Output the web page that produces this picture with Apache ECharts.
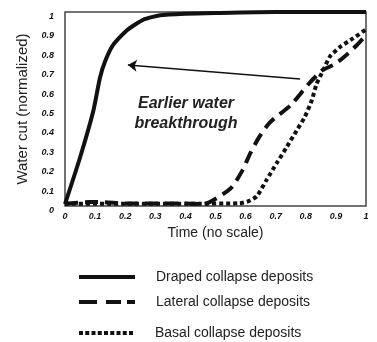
<!DOCTYPE html>
<html>
<head>
<meta charset="utf-8">
<script src="https://cdn.jsdelivr.net/npm/echarts@6/dist/echarts.min.js"></script>
<style>
  html, body { margin: 0; padding: 0; background: #fff; }
  #chart { width: 377px; height: 342px; }
</style>
</head>
<body>
<div id="chart"></div>
<script>
// curves (time 0..1, water cut 0..1)
const drapedTime = [0, 0.05, 0.094, 0.116, 0.133, 0.16, 0.205, 0.26, 0.316, 0.4, 0.5, 0.7, 1.0];
const drapedCut = [0.01, 0.25, 0.49, 0.66, 0.745, 0.83, 0.905, 0.96, 0.983, 0.991, 0.995, 1.0, 1.0];

const lateralTime = [0, 0.08, 0.12, 0.2, 0.3, 0.4, 0.46, 0.55, 0.59, 0.615, 0.645, 0.68, 0.75, 0.81, 0.855, 0.895, 0.925, 0.97, 1.0];
const lateralCut = [0.012, 0.02, 0.02, 0.013, 0.013, 0.013, 0.01, 0.09, 0.185, 0.27, 0.355, 0.43, 0.52, 0.63, 0.70, 0.73, 0.765, 0.83, 0.88];

const basalTime = [0, 0.2, 0.4, 0.58, 0.61, 0.637, 0.67, 0.703, 0.737, 0.77, 0.797, 0.82, 0.836, 0.858, 0.88, 0.914, 0.958, 1.0];
const basalCut = [0.012, 0.012, 0.012, 0.014, 0.025, 0.05, 0.135, 0.22, 0.305, 0.39, 0.46, 0.545, 0.63, 0.70, 0.77, 0.82, 0.865, 0.91];

const seriesNames = ["Draped collapse deposits", "Lateral collapse deposits", "Basal collapse deposits"];
const arrowFrom = [0.781, 0.655];
const arrowTo = [0.209, 0.727];

const zip = (xs, ys) => xs.map((x, i) => [x, ys[i]]);

const font = '"Liberation Sans", Arial, sans-serif';
const tickStyle = { fontSize: 9, fontWeight: "bold", fontStyle: "italic", color: "#111", fontFamily: font };

// legend swatches (56 x 4)
const iconSolid = "path://M0,0h56v4h-56z";
const iconDashed = "path://M0,0h18v4h-18zM27,0h15v4h-15zM48,0h8v4h-8z";
let dots = "path://";
for (let i = 0; i < 9; i++) dots += "M" + (i * 6.25) + ",0h4v4h-4z";
const iconDotted = dots;

const chart = echarts.init(document.getElementById("chart"));

const legendAt = (name, icon, top) => ({
  data: [{ name: name, icon: icon }],
  orient: "vertical",
  left: 74,
  top: top,
  itemWidth: 56,
  itemHeight: 4,
  itemStyle: { color: "#111" },
  textStyle: { fontSize: 14, color: "#222", fontFamily: font, padding: [0, 0, 0, 16] },
  selectedMode: false,
});

const option = {
  animation: false,
  grid: {
    left: 65, right: 11, top: 12, bottom: 136,
    show: true, borderColor: "#444", borderWidth: 1.5,
  },
  xAxis: {
    type: "value", min: 0, max: 1, interval: 0.1,
    name: "Time (no scale)", nameLocation: "middle", nameGap: 12,
    nameTextStyle: { fontSize: 14, color: "#222", fontFamily: font },
    axisLine: { show: false }, axisTick: { show: false }, splitLine: { show: false },
    axisLabel: Object.assign({ margin: 6 }, tickStyle),
  },
  yAxis: {
    type: "value", min: 0, max: 1, interval: 0.1,
    name: "Water cut (normalized)", nameLocation: "middle", nameGap: 28,
    nameTextStyle: { fontSize: 15, color: "#222", fontFamily: font },
    axisLine: { show: false }, axisTick: { show: false }, splitLine: { show: false },
    axisLabel: Object.assign({ margin: 11, verticalAlign: "top", lineHeight: 9 }, tickStyle),
  },
  legend: [
    legendAt(seriesNames[0], iconSolid, 265),
    legendAt(seriesNames[1], iconDashed, 290),
    legendAt(seriesNames[2], iconDotted, 321),
  ],
  graphic: [
    {
      type: "text", x: 186, y: 94,
      style: {
        text: "Earlier water\nbreakthrough", align: "center", lineHeight: 20,
        font: 'italic bold 16px "Liberation Sans", Arial, sans-serif', fill: "#222",
      },
    },
  ],
  series: [
    {
      name: seriesNames[0], type: "line", data: zip(drapedTime, drapedCut),
      smooth: 0.2, symbol: "none", color: "#111",
      lineStyle: { width: 4, color: "#111" },
      markLine: {
        silent: true, symbol: ["none", "arrow"], symbolSize: 9,
        label: { show: false },
        lineStyle: { type: "solid", width: 1.5, color: "#111", curveness: -0.04 },
        data: [[{ coord: arrowFrom }, { coord: arrowTo }]],
      },
    },
    {
      name: seriesNames[1], type: "line", data: zip(lateralTime, lateralCut),
      smooth: 0.2, symbol: "none", color: "#111",
      lineStyle: { width: 4, color: "#111", type: [13, 7], cap: "butt" },
    },
    {
      name: seriesNames[2], type: "line", data: zip(basalTime, basalCut),
      smooth: 0.2, symbol: "none", color: "#111",
      lineStyle: { width: 4, color: "#111", type: [4, 3], cap: "butt" },
    },
  ],
};

chart.setOption(option);
</script>
</body>
</html>
